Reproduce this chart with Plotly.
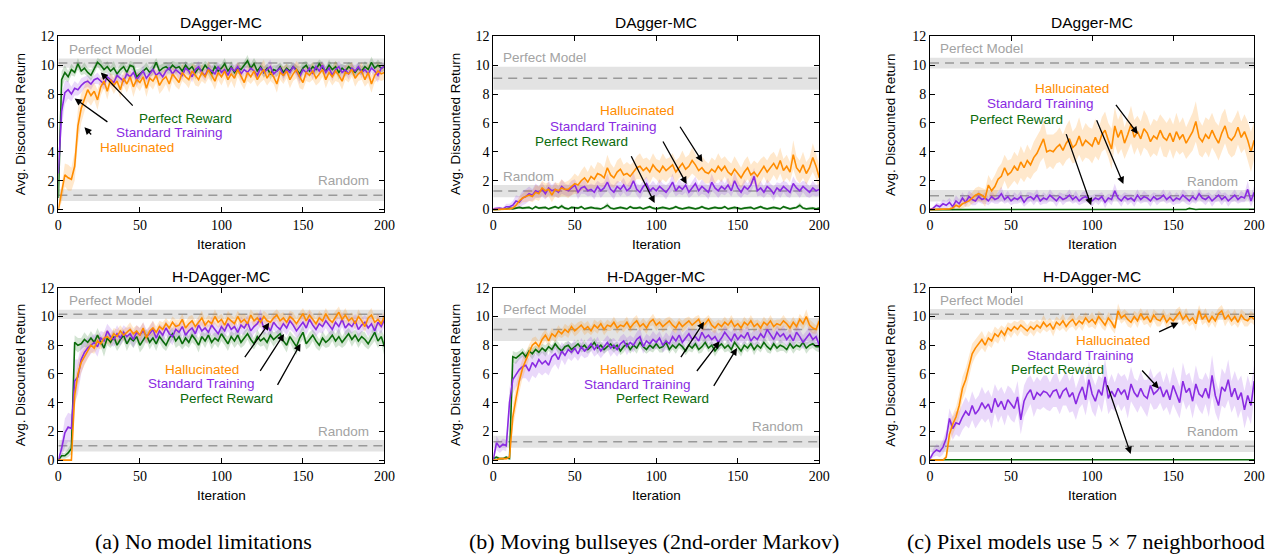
import plotly.graph_objects as go

# ---------------- data ----------------
ITER = list(range(0, 201, 2))
X_TICKS = [0, 50, 100, 150, 200]
Y_TICKS = [0, 2, 4, 6, 8, 10, 12]

SERIES_NAMES = ["Perfect Reward", "Standard Training", "Hallucinated"]
PANEL_TITLES = ["DAgger-MC", "DAgger-MC", "DAgger-MC", "H-DAgger-MC", "H-DAgger-MC", "H-DAgger-MC"]
CAPTIONS = ["(a) No model limitations", "(b) Moving bullseyes (2nd-order Markov)",
            "(c) Pixel models use 5 \u00d7 7 neighborhood"]

PERFECT_MODEL_MEAN = [10.15, 9.1, 10.15]
PERFECT_MODEL_SPREAD = [0.32, 0.8, 0.37]
RANDOM_MEAN = [1.0, 1.28, 0.96]
RANDOM_SPREAD = [0.4, 0.42, 0.4]

# ---- (a) top: DAgger-MC, no model limitations
A1_G = [0.8, 9.0, 9.5, 9.2, 9.7, 9.5, 10.1, 9.6, 9.8, 9.5,
        9.3, 9.7, 10.2, 10.0, 9.7, 9.9, 9.6, 9.8, 9.4, 9.7,
        9.9, 9.5, 10.0, 9.9, 9.2, 9.4, 9.6, 9.8, 9.5, 9.7,
        10.2, 9.6, 9.8, 9.9, 9.7, 10.0, 9.8, 9.9, 9.6, 10.0,
        9.7, 9.9, 9.5, 9.8, 9.6, 10.0, 9.7, 9.4, 9.9, 9.6,
        9.8, 10.1, 9.6, 9.9, 9.5, 9.8, 9.7, 10.0, 10.3, 9.8,
        10.1, 9.6, 9.9, 9.5, 9.8, 9.4, 9.7, 9.6, 9.9, 9.5,
        9.8, 9.6, 9.9, 9.7, 9.4, 9.8, 10.0, 9.6, 9.9, 9.7,
        10.1, 9.8, 9.6, 10.0, 9.7, 9.9, 9.5, 9.8, 9.6, 9.9,
        9.7, 9.5, 9.8, 9.6, 9.9, 9.7, 10.2, 9.8, 10.0, 9.8,
        9.9]
A1_P = [2.5, 6.8, 8.1, 8.3, 8.0, 8.4, 8.3, 8.6, 8.8, 8.9,
        8.7, 9.0, 9.1, 8.9, 8.7, 9.2, 9.0, 8.8, 9.3, 9.1,
        8.9, 9.4, 9.2, 9.5, 9.0, 9.3, 9.6, 9.1, 9.4, 9.7,
        9.3, 9.5, 9.2, 9.6, 9.8, 9.4, 9.7, 9.5, 9.3, 9.8,
        9.6, 9.2, 9.7, 9.9, 9.5, 9.3, 9.8, 9.6, 9.4, 9.9,
        9.5, 9.7, 9.3, 9.8, 9.6, 9.9, 9.4, 9.7, 9.5, 9.8,
        9.6, 9.3, 9.8, 9.5, 9.7, 9.9, 9.4, 9.6, 9.8, 9.3,
        9.7, 9.5, 9.9, 9.6, 9.2, 9.7, 9.5, 9.8, 9.4, 9.9,
        9.6, 10.0, 9.5, 9.8, 9.3, 9.7, 9.9, 9.5, 9.7, 9.4,
        9.8, 9.6, 9.9, 9.5, 9.7, 9.4, 9.8, 9.6, 9.3, 9.8,
        9.9]
A1_O = [0.0, 1.1, 2.4, 2.2, 2.1, 3.0, 5.8, 7.0, 7.7, 8.3,
        7.9, 8.2, 7.6, 8.5, 8.9, 8.2, 9.0, 8.6, 8.9, 8.3,
        9.1, 8.7, 9.2, 8.5, 9.0, 8.8, 9.2, 8.4, 9.1, 8.9,
        9.3, 8.6, 9.0, 9.2, 8.7, 9.4, 9.1, 8.8, 9.5, 9.2,
        9.0, 9.6, 9.3, 9.0, 9.5, 9.2, 9.7, 9.3, 8.9, 9.5,
        9.2, 9.6, 9.0, 9.4, 9.1, 9.7, 9.3, 8.8, 9.5, 9.2,
        9.6, 9.0, 9.4, 9.7, 9.1, 9.5, 9.2, 8.7, 9.5, 9.3,
        9.6, 9.0, 9.4, 9.7, 9.2, 8.8, 9.5, 9.3, 9.6, 9.1,
        9.4, 9.7, 9.0, 9.5, 9.2, 9.6, 9.3, 8.9, 9.5, 9.4,
        9.7, 9.1, 9.4, 9.6, 9.0, 9.5, 8.7, 9.3, 9.6, 9.4,
        9.5]
A1_G_SD = [0.2, 0.6, 0.5, 0.4, 0.4, 0.3, 0.4, 0.3, 0.4, 0.3,
           0.4, 0.3, 0.3, 0.4, 0.3, 0.4, 0.3, 0.5, 0.3, 0.4,
           0.3, 0.4, 0.3, 0.3, 0.5, 0.4, 0.3, 0.4, 0.3, 0.4,
           0.3, 0.4, 0.3, 0.3, 0.4, 0.3, 0.4, 0.3, 0.4, 0.3,
           0.4, 0.3, 0.5, 0.3, 0.4, 0.3, 0.4, 0.5, 0.3, 0.4,
           0.3, 0.4, 0.3, 0.4, 0.3, 0.4, 0.3, 0.3, 0.4, 0.3,
           0.4, 0.5, 0.3, 0.4, 0.3, 0.4, 0.3, 0.4, 0.3, 0.4,
           0.3, 0.4, 0.3, 0.3, 0.5, 0.4, 0.3, 0.4, 0.3, 0.4,
           0.3, 0.4, 0.3, 0.4, 0.3, 0.4, 0.5, 0.3, 0.4, 0.3,
           0.4, 0.3, 0.4, 0.3, 0.4, 0.3, 0.4, 0.3, 0.4, 0.3,
           0.3]
A1_P_SD = [1.0, 1.2, 0.8, 0.6, 0.5, 0.5, 0.4, 0.5, 0.4, 0.4,
           0.4, 0.3, 0.4, 0.3, 0.4, 0.3, 0.4, 0.3, 0.4, 0.3,
           0.4, 0.3, 0.4, 0.3, 0.5, 0.3, 0.4, 0.3, 0.4, 0.3,
           0.3, 0.4, 0.3, 0.4, 0.3, 0.4, 0.3, 0.5, 0.3, 0.4,
           0.3, 0.4, 0.3, 0.4, 0.3, 0.4, 0.3, 0.4, 0.5, 0.3,
           0.4, 0.3, 0.4, 0.3, 0.4, 0.3, 0.5, 0.3, 0.4, 0.3,
           0.4, 0.3, 0.4, 0.3, 0.4, 0.5, 0.3, 0.4, 0.3, 0.4,
           0.3, 0.4, 0.3, 0.4, 0.5, 0.3, 0.4, 0.3, 0.4, 0.3,
           0.4, 0.3, 0.4, 0.3, 0.4, 0.3, 0.4, 0.5, 0.3, 0.4,
           0.3, 0.4, 0.3, 0.4, 0.3, 0.4, 0.3, 0.4, 0.5, 0.3,
           0.3]
A1_O_SD = [0.2, 0.6, 0.8, 0.9, 0.8, 1.0, 1.2, 1.0, 0.9, 0.8,
           0.7, 0.6, 0.7, 0.6, 0.5, 0.6, 0.5, 0.6, 0.5, 0.6,
           0.5, 0.6, 0.5, 0.7, 0.5, 0.6, 0.5, 0.6, 0.5, 0.6,
           0.5, 0.6, 0.7, 0.5, 0.6, 0.5, 0.6, 0.5, 0.6, 0.5,
           0.6, 0.5, 0.7, 0.5, 0.6, 0.5, 0.6, 0.5, 0.6, 0.5,
           0.6, 0.5, 0.6, 0.5, 0.7, 0.5, 0.6, 0.5, 0.6, 0.5,
           0.6, 0.5, 0.6, 0.7, 0.5, 0.6, 0.5, 0.6, 0.5, 0.6,
           0.5, 0.6, 0.5, 0.6, 0.8, 0.5, 0.6, 0.5, 0.6, 0.5,
           0.6, 0.5, 0.6, 0.5, 0.6, 0.7, 0.5, 0.6, 0.5, 0.6,
           0.5, 0.6, 0.5, 0.6, 0.5, 0.7, 0.6, 0.5, 0.6, 0.5,
           0.5]

# ---- (b) top: DAgger-MC, moving bullseyes
B1_G = [0.0, 0.0, 0.0, 0.0, 0.05, 0.1, 0.05, 0.1, 0.15, 0.1,
        0.1, 0.15, 0.05, 0.2, 0.1, 0.1, 0.15, 0.05, 0.1, 0.2,
        0.1, 0.25, 0.1, 0.05, 0.15, 0.1, 0.1, 0.2, 0.05, 0.1,
        0.15, 0.1, 0.1, 0.05, 0.15, 0.3, 0.1, 0.05, 0.1, 0.15,
        0.1, 0.05, 0.2, 0.1, 0.1, 0.15, 0.05, 0.1, 0.2, 0.1,
        0.05, 0.1, 0.15, 0.1, 0.05, 0.1, 0.2, 0.1, 0.05, 0.1,
        0.15, 0.1, 0.05, 0.1, 0.2, 0.1, 0.05, 0.1, 0.15, 0.1,
        0.1, 0.2, 0.05, 0.1, 0.15, 0.1, 0.05, 0.1, 0.1, 0.15,
        0.05, 0.1, 0.2, 0.1, 0.05, 0.1, 0.15, 0.1, 0.05, 0.2,
        0.1, 0.05, 0.1, 0.15, 0.3, 0.1, 0.05, 0.1, 0.1, 0.05,
        0.1]
B1_P = [0.05, 0.1, 0.1, 0.05, 0.2, 0.2, 0.3, 0.6, 0.5, 0.8,
        0.9, 1.1, 1.0, 1.3, 1.2, 1.4, 1.1, 1.5, 1.3, 1.4,
        1.2, 1.6, 1.4, 1.3, 1.5, 1.7, 1.2, 1.5, 1.6, 1.3,
        1.4, 1.2, 1.6, 1.3, 1.5, 1.9, 1.4, 1.2, 1.6, 1.4,
        1.7, 1.3, 1.5, 2.0, 1.4, 1.2, 1.6, 1.8, 1.3, 1.5,
        1.3, 1.6, 1.4, 1.2, 1.5, 1.9, 1.3, 1.6, 1.4, 1.7,
        1.2, 1.5, 1.8, 1.3, 1.6, 1.4, 1.2, 1.9, 1.5, 1.3,
        1.6, 1.4, 1.7, 1.3, 2.0, 1.5, 1.2, 1.6, 1.4, 1.7,
        2.3, 1.3, 1.5, 1.2, 1.6, 1.4, 1.1, 1.5, 1.3, 1.6,
        1.4, 1.2, 1.8, 1.5, 1.3, 1.6, 1.4, 1.2, 1.5, 1.3,
        1.4]
B1_O = [0.0, 0.0, 0.0, 0.0, 0.05, 0.05, 0.1, 0.3, 0.6, 0.8,
        0.9, 1.0, 0.9, 1.2, 1.1, 1.5, 1.3, 1.4, 1.0, 1.4,
        1.3, 1.5, 1.4, 1.4, 1.6, 1.8, 1.7, 2.0, 2.2, 1.9,
        2.3, 2.1, 2.5, 2.4, 2.2, 2.9, 2.4, 2.2, 2.6, 2.8,
        2.4, 2.5, 2.3, 2.6, 2.9, 3.0, 2.7, 2.9, 2.6, 3.1,
        2.8, 2.6, 3.0, 2.7, 2.9, 3.1, 2.6, 2.9, 3.2, 2.8,
        3.0, 3.4, 3.1, 2.7, 2.9, 2.6, 2.5, 2.8, 2.6, 3.0,
        2.7, 3.0, 2.6, 2.4, 2.8, 2.5, 2.2, 2.6, 2.9, 2.4,
        2.6, 2.3, 2.7, 3.0, 2.6, 2.9, 3.2, 2.8, 3.4, 2.7,
        3.0, 2.6, 3.8, 2.9, 2.6, 3.1, 2.5, 2.9, 3.6, 3.0,
        2.2]
B1_G_SD = [0.0, 0.0, 0.0, 0.0, 0.05, 0.05, 0.05, 0.1, 0.1, 0.1,
           0.1, 0.1, 0.05, 0.1, 0.1, 0.1, 0.1, 0.05, 0.1, 0.1,
           0.1, 0.15, 0.1, 0.05, 0.1, 0.1, 0.1, 0.1, 0.05, 0.1,
           0.1, 0.1, 0.1, 0.05, 0.1, 0.2, 0.1, 0.05, 0.1, 0.1,
           0.1, 0.05, 0.1, 0.1, 0.1, 0.1, 0.05, 0.1, 0.1, 0.1,
           0.05, 0.1, 0.1, 0.1, 0.05, 0.1, 0.1, 0.1, 0.05, 0.1,
           0.1, 0.1, 0.05, 0.1, 0.1, 0.1, 0.05, 0.1, 0.1, 0.1,
           0.1, 0.1, 0.05, 0.1, 0.1, 0.1, 0.05, 0.1, 0.1, 0.1,
           0.05, 0.1, 0.1, 0.1, 0.05, 0.1, 0.1, 0.1, 0.05, 0.1,
           0.1, 0.05, 0.1, 0.1, 0.2, 0.1, 0.05, 0.1, 0.1, 0.05,
           0.1]
B1_P_SD = [0.05, 0.1, 0.1, 0.1, 0.2, 0.2, 0.3, 0.4, 0.4, 0.5,
           0.5, 0.5, 0.4, 0.5, 0.4, 0.5, 0.4, 0.5, 0.4, 0.5,
           0.4, 0.5, 0.4, 0.4, 0.5, 0.4, 0.5, 0.4, 0.5, 0.4,
           0.4, 0.5, 0.4, 0.5, 0.4, 0.6, 0.4, 0.5, 0.4, 0.5,
           0.5, 0.4, 0.5, 0.6, 0.4, 0.5, 0.4, 0.5, 0.4, 0.5,
           0.4, 0.5, 0.4, 0.5, 0.4, 0.6, 0.4, 0.5, 0.4, 0.5,
           0.4, 0.5, 0.5, 0.4, 0.5, 0.4, 0.5, 0.6, 0.4, 0.5,
           0.5, 0.4, 0.5, 0.4, 0.6, 0.5, 0.4, 0.5, 0.4, 0.5,
           0.6, 0.4, 0.5, 0.4, 0.5, 0.4, 0.5, 0.4, 0.5, 0.4,
           0.5, 0.4, 0.5, 0.4, 0.5, 0.4, 0.5, 0.4, 0.5, 0.4,
           0.4]
B1_O_SD = [0.0, 0.0, 0.0, 0.05, 0.05, 0.1, 0.1, 0.2, 0.3, 0.3,
           0.4, 0.4, 0.4, 0.5, 0.5, 0.5, 0.5, 0.5, 0.5, 0.5,
           0.5, 0.6, 0.5, 0.6, 0.6, 0.7, 0.6, 0.7, 0.8, 0.7,
           0.8, 0.7, 0.8, 0.8, 0.7, 0.9, 0.8, 0.7, 0.8, 0.8,
           0.7, 0.8, 0.8, 0.7, 0.8, 0.9, 0.8, 0.7, 0.8, 0.8,
           0.7, 0.8, 0.9, 0.8, 0.7, 0.8, 0.8, 0.7, 0.9, 0.8,
           0.8, 0.9, 0.8, 0.7, 0.8, 0.8, 0.7, 0.8, 0.8, 0.9,
           0.8, 0.7, 0.8, 0.8, 0.9, 0.8, 0.7, 0.8, 0.8, 0.7,
           0.8, 0.9, 0.8, 0.7, 0.8, 0.9, 0.8, 0.8, 0.9, 0.8,
           0.8, 0.7, 1.0, 0.8, 0.8, 0.9, 0.8, 0.7, 1.0, 0.9,
           0.8]

# ---- (c) top: DAgger-MC, pixel models 5x7
C1_G = [0.0, 0.0, 0.0, 0.0, 0.01, 0.02, 0.02, 0.01, 0.02, 0.02,
        0.02, 0.01, 0.02, 0.02, 0.02, 0.01, 0.02, 0.02, 0.02, 0.01,
        0.02, 0.02, 0.01, 0.02, 0.02, 0.02, 0.01, 0.02, 0.02, 0.02,
        0.01, 0.02, 0.02, 0.02, 0.01, 0.02, 0.02, 0.02, 0.01, 0.02,
        0.02, 0.01, 0.02, 0.02, 0.02, 0.01, 0.02, 0.02, 0.02, 0.01,
        0.02, 0.02, 0.01, 0.02, 0.02, 0.02, 0.01, 0.02, 0.02, 0.02,
        0.01, 0.02, 0.02, 0.02, 0.01, 0.02, 0.02, 0.02, 0.01, 0.02,
        0.02, 0.01, 0.02, 0.02, 0.02, 0.01, 0.02, 0.02, 0.02, 0.01,
        0.08, 0.02, 0.01, 0.02, 0.02, 0.02, 0.01, 0.02, 0.02, 0.02,
        0.01, 0.02, 0.02, 0.02, 0.01, 0.02, 0.02, 0.02, 0.01, 0.02,
        0.02]
C1_P = [0.0, 0.1, 0.3, 0.2, 0.4, 0.3, 0.5, 0.2, 0.6, 0.4,
        0.8, 0.5, 0.9, 0.7, 0.6, 0.9, 0.7, 0.8, 0.6, 0.9,
        0.7, 0.8, 1.1, 0.7, 0.9, 0.6, 0.8, 0.7, 0.9, 0.5,
        0.8, 0.9, 0.7, 1.0, 0.6, 0.8, 0.7, 1.0, 0.8, 0.6,
        0.9, 0.7, 0.8, 1.0, 0.7, 0.9, 0.6, 0.8, 0.9, 0.7,
        0.6, 0.8, 0.7, 0.9, 0.5, 0.8, 0.7, 1.3, 0.8, 0.6,
        0.9, 0.7, 0.8, 0.6, 1.0, 0.7, 0.9, 0.8, 0.6, 0.9,
        0.7, 0.8, 1.0, 0.7, 0.9, 0.6, 0.8, 0.7, 1.0, 0.8,
        0.6, 0.9, 0.7, 1.1, 0.8, 0.7, 0.9, 0.6, 0.8, 1.0,
        0.7, 0.9, 0.6, 0.8, 1.0, 0.7, 0.9, 0.8, 1.4, 0.6,
        1.2]
C1_O = [0.0, 0.0, 0.0, 0.0, 0.0, 0.0, 0.05, 0.1, 0.3, 0.2,
        0.4, 0.5, 0.6, 0.8, 1.0, 1.1, 1.0, 0.8, 1.7, 1.3,
        1.6, 2.1, 2.3, 2.9, 2.4, 2.6, 3.0, 2.7, 3.3, 2.9,
        3.4, 3.1, 3.6, 3.9, 4.4, 4.9, 4.0, 4.1, 4.0, 4.3,
        4.5, 4.1, 4.6, 4.9, 4.3, 4.5, 5.1, 4.4, 4.8, 4.6,
        4.4, 5.0, 4.5, 5.2, 5.5, 4.8, 4.2, 5.8, 5.0, 5.5,
        4.6, 5.2, 5.9, 5.0, 5.4, 4.9, 5.6, 5.3, 4.7, 5.1,
        4.9, 5.5, 5.0, 4.8, 5.3, 4.7, 5.4, 4.9, 5.2, 4.6,
        5.0, 5.4, 6.1, 5.0, 4.7, 5.2, 4.9, 5.5, 5.0, 4.6,
        5.3, 5.8, 5.0, 4.8, 5.1, 5.7, 5.0, 5.4, 4.8, 4.0,
        4.8]
C1_G_SD = [0.0, 0.0, 0.0, 0.0, 0.01, 0.01, 0.02, 0.01, 0.02, 0.01,
           0.02, 0.01, 0.02, 0.01, 0.02, 0.01, 0.02, 0.01, 0.02, 0.01,
           0.02, 0.01, 0.02, 0.01, 0.02, 0.01, 0.02, 0.01, 0.02, 0.01,
           0.02, 0.01, 0.02, 0.01, 0.02, 0.01, 0.02, 0.01, 0.02, 0.01,
           0.02, 0.01, 0.02, 0.01, 0.02, 0.01, 0.02, 0.01, 0.02, 0.01,
           0.02, 0.01, 0.02, 0.01, 0.02, 0.01, 0.02, 0.01, 0.02, 0.01,
           0.02, 0.01, 0.02, 0.01, 0.02, 0.01, 0.02, 0.01, 0.02, 0.01,
           0.02, 0.01, 0.02, 0.01, 0.02, 0.01, 0.02, 0.01, 0.02, 0.01,
           0.06, 0.01, 0.02, 0.01, 0.02, 0.01, 0.02, 0.01, 0.02, 0.01,
           0.02, 0.01, 0.02, 0.01, 0.02, 0.01, 0.02, 0.01, 0.02, 0.01,
           0.02]
C1_P_SD = [0.05, 0.1, 0.2, 0.2, 0.3, 0.3, 0.3, 0.3, 0.4, 0.3,
           0.4, 0.3, 0.4, 0.4, 0.3, 0.4, 0.3, 0.4, 0.3, 0.4,
           0.3, 0.4, 0.5, 0.3, 0.4, 0.3, 0.4, 0.3, 0.4, 0.3,
           0.4, 0.3, 0.4, 0.4, 0.3, 0.4, 0.3, 0.4, 0.3, 0.4,
           0.3, 0.4, 0.3, 0.4, 0.3, 0.4, 0.3, 0.4, 0.4, 0.3,
           0.4, 0.3, 0.4, 0.3, 0.4, 0.3, 0.4, 0.5, 0.3, 0.4,
           0.3, 0.4, 0.3, 0.4, 0.4, 0.3, 0.4, 0.3, 0.4, 0.3,
           0.4, 0.3, 0.4, 0.3, 0.4, 0.3, 0.4, 0.3, 0.4, 0.4,
           0.3, 0.4, 0.3, 0.4, 0.3, 0.4, 0.3, 0.4, 0.3, 0.4,
           0.4, 0.3, 0.4, 0.3, 0.4, 0.3, 0.4, 0.3, 0.6, 0.4,
           0.5]
C1_O_SD = [0.0, 0.0, 0.0, 0.0, 0.0, 0.05, 0.1, 0.1, 0.2, 0.2,
           0.3, 0.3, 0.4, 0.4, 0.5, 0.5, 0.5, 0.6, 0.7, 0.7,
           0.8, 0.8, 0.9, 0.9, 1.0, 0.9, 1.0, 1.0, 1.1, 1.0,
           1.1, 1.0, 1.1, 1.2, 1.1, 1.3, 1.2, 1.1, 1.2, 1.1,
           1.2, 1.1, 1.2, 1.3, 1.1, 1.2, 1.3, 1.1, 1.2, 1.1,
           1.2, 1.3, 1.1, 1.2, 1.3, 1.2, 1.4, 1.3, 1.2, 1.3,
           1.1, 1.2, 1.3, 1.2, 1.1, 1.2, 1.3, 1.2, 1.1, 1.2,
           1.2, 1.1, 1.3, 1.2, 1.1, 1.2, 1.3, 1.1, 1.2, 1.1,
           1.2, 1.3, 1.4, 1.2, 1.1, 1.2, 1.3, 1.2, 1.1, 1.2,
           1.3, 1.2, 1.1, 1.2, 1.3, 1.2, 1.1, 1.2, 1.3, 1.4,
           1.3]

# ---- (a) bottom: H-DAgger-MC, no model limitations
A2_G = [0.0, 0.3, 0.3, 0.5, 0.8, 8.2, 8.0, 8.1, 8.4, 8.2,
        8.5, 8.2, 8.7, 8.3, 7.8, 8.5, 8.2, 8.6, 8.0, 8.4,
        8.7, 8.1, 8.5, 8.3, 8.6, 8.0, 8.4, 8.7, 8.2, 8.5,
        8.1, 8.6, 8.3, 8.0, 8.5, 8.8, 8.3, 8.6, 8.1, 8.5,
        8.2, 8.7, 8.4, 8.0, 8.6, 8.3, 8.7, 8.2, 8.5, 8.3,
        8.8, 8.4, 8.1, 8.6, 8.3, 8.7, 8.2, 8.5, 8.8, 8.4,
        8.1, 8.6, 8.3, 8.5, 8.2, 8.7, 8.4, 8.6, 8.8, 8.3,
        8.0, 8.6, 8.2, 7.9, 8.5, 8.9, 8.1, 8.4, 8.7, 8.3,
        8.0, 8.5, 8.2, 8.4, 8.7, 8.3, 8.6, 8.2, 8.5, 8.8,
        8.4, 8.7, 8.3, 8.6, 8.4, 8.1, 8.5, 8.9, 8.3, 8.6,
        7.9]
A2_P = [0.0, 0.8, 1.9, 2.3, 2.2, 5.5, 5.8, 7.0, 7.5, 7.8,
        8.0, 8.2, 7.9, 8.5, 8.3, 9.0, 8.6, 8.4, 8.8, 8.5,
        8.9, 8.6, 8.8, 8.4, 8.9, 8.7, 9.0, 8.6, 8.8, 9.1,
        8.5, 9.0, 8.7, 9.2, 8.8, 8.6, 9.1, 8.9, 9.3, 8.7,
        9.0, 9.2, 8.8, 9.4, 9.0, 9.2, 8.9, 9.4, 9.1, 8.8,
        9.3, 9.0, 9.5, 9.1, 9.3, 8.9, 9.4, 9.2, 9.6, 9.0,
        9.3, 9.5, 9.9, 9.2, 9.4, 9.0, 9.6, 9.3, 9.1, 9.5,
        9.2, 9.7, 9.4, 9.0, 9.3, 9.6, 9.2, 9.8, 9.4, 9.1,
        9.5, 9.3, 9.7, 9.4, 9.1, 9.6, 9.3, 9.8, 9.2, 9.5,
        9.3, 9.7, 9.1, 9.4, 9.6, 9.2, 9.5, 9.0, 9.6, 9.3,
        9.8]
A2_O = [0.0, 0.0, 0.0, 0.0, 0.0, 4.5, 6.0, 6.8, 7.2, 7.6,
        8.0, 7.8, 8.3, 8.1, 8.5, 8.6, 8.4, 8.8, 8.6, 9.0,
        8.7, 8.9, 9.1, 8.8, 9.0, 8.7, 9.2, 8.5, 9.0, 9.2,
        8.9, 9.3, 9.1, 9.5, 9.2, 9.6, 9.3, 9.4, 9.8, 9.2,
        9.5, 9.7, 9.3, 9.6, 9.9, 9.4, 9.7, 9.5, 10.0, 9.6,
        9.8, 9.4, 9.9, 9.7, 9.5, 10.0, 9.6, 9.8, 9.5, 10.1,
        9.7, 9.9, 9.6, 10.0, 9.7, 9.6, 9.9, 10.1, 9.7, 9.9,
        9.6, 10.0, 9.8, 9.5, 9.9, 10.2, 9.7, 10.1, 9.8, 9.5,
        9.9, 9.7, 10.2, 9.8, 9.6, 10.0, 10.3, 9.8, 10.1, 9.7,
        9.9, 9.5, 10.0, 9.7, 9.3, 9.9, 10.1, 9.6, 9.8, 9.5,
        10.0]
A2_G_SD = [0.0, 0.2, 0.2, 0.3, 0.4, 0.5, 0.5, 0.4, 0.5, 0.4,
           0.5, 0.4, 0.5, 0.4, 0.6, 0.5, 0.4, 0.5, 0.4, 0.5,
           0.4, 0.5, 0.4, 0.5, 0.4, 0.5, 0.6, 0.4, 0.5, 0.4,
           0.5, 0.4, 0.5, 0.4, 0.5, 0.4, 0.5, 0.6, 0.4, 0.5,
           0.4, 0.5, 0.4, 0.5, 0.4, 0.5, 0.4, 0.5, 0.4, 0.5,
           0.5, 0.4, 0.5, 0.4, 0.5, 0.6, 0.4, 0.5, 0.4, 0.5,
           0.4, 0.5, 0.4, 0.5, 0.6, 0.4, 0.5, 0.4, 0.5, 0.4,
           0.5, 0.4, 0.5, 0.6, 0.4, 0.5, 0.4, 0.5, 0.4, 0.5,
           0.4, 0.5, 0.4, 0.5, 0.4, 0.5, 0.6, 0.4, 0.5, 0.4,
           0.5, 0.4, 0.5, 0.4, 0.5, 0.4, 0.5, 0.6, 0.5, 0.5,
           0.7]
A2_P_SD = [0.0, 0.6, 1.0, 1.0, 1.0, 1.5, 1.2, 1.0, 0.8, 0.7,
           0.6, 0.6, 0.7, 0.5, 0.6, 0.5, 0.6, 0.5, 0.6, 0.5,
           0.5, 0.6, 0.5, 0.6, 0.5, 0.5, 0.6, 0.5, 0.5, 0.6,
           0.5, 0.5, 0.6, 0.5, 0.5, 0.6, 0.5, 0.5, 0.6, 0.5,
           0.5, 0.6, 0.5, 0.5, 0.6, 0.5, 0.5, 0.6, 0.5, 0.5,
           0.6, 0.5, 0.5, 0.6, 0.5, 0.5, 0.6, 0.5, 0.5, 0.6,
           0.5, 0.5, 0.6, 0.5, 0.5, 0.6, 0.5, 0.5, 0.6, 0.5,
           0.5, 0.6, 0.5, 0.5, 0.6, 0.5, 0.5, 0.6, 0.5, 0.5,
           0.6, 0.5, 0.5, 0.6, 0.5, 0.5, 0.6, 0.5, 0.5, 0.6,
           0.5, 0.5, 0.6, 0.5, 0.5, 0.6, 0.5, 0.5, 0.6, 0.5,
           0.5]
A2_O_SD = [0.0, 0.0, 0.0, 0.0, 0.0, 1.0, 0.8, 0.7, 0.6, 0.5,
           0.5, 0.4, 0.5, 0.4, 0.4, 0.5, 0.4, 0.4, 0.5, 0.4,
           0.4, 0.4, 0.5, 0.4, 0.4, 0.5, 0.4, 0.4, 0.4, 0.5,
           0.4, 0.4, 0.5, 0.4, 0.4, 0.4, 0.5, 0.4, 0.4, 0.4,
           0.5, 0.4, 0.4, 0.4, 0.5, 0.4, 0.4, 0.4, 0.5, 0.4,
           0.4, 0.4, 0.5, 0.4, 0.4, 0.4, 0.5, 0.4, 0.4, 0.4,
           0.5, 0.4, 0.4, 0.4, 0.5, 0.4, 0.4, 0.4, 0.5, 0.4,
           0.4, 0.4, 0.5, 0.4, 0.4, 0.4, 0.5, 0.4, 0.4, 0.4,
           0.5, 0.4, 0.4, 0.4, 0.5, 0.4, 0.4, 0.4, 0.5, 0.4,
           0.4, 0.4, 0.5, 0.4, 0.4, 0.4, 0.5, 0.4, 0.4, 0.4,
           0.4]

# ---- (b) bottom: H-DAgger-MC, moving bullseyes
B2_G = [0.1, 0.2, 0.1, 0.1, 0.2, 0.1, 7.2, 7.1, 7.3, 7.5,
        7.2, 7.6, 7.4, 7.7, 7.5, 7.8, 7.6, 7.9, 7.7, 8.1,
        7.8, 7.6, 7.9, 8.0, 7.7, 7.9, 8.1, 7.8, 8.0, 7.7,
        7.9, 8.2, 7.8, 8.0, 7.7, 7.9, 8.1, 7.8, 8.0, 7.6,
        7.9, 8.1, 7.7, 8.0, 7.8, 8.2, 7.9, 7.7, 8.0, 7.8,
        8.1, 7.8, 7.9, 8.2, 7.7, 8.0, 7.8, 8.1, 7.9, 7.6,
        8.0, 7.8, 8.1, 7.7, 7.9, 8.2, 7.8, 8.0, 7.6, 7.9,
        8.1, 7.8, 8.0, 7.7, 8.2, 7.9, 7.6, 8.0, 7.8, 8.1,
        7.7, 8.0, 7.8, 8.2, 7.9, 7.7, 8.1, 7.8, 8.0, 7.9,
        7.7, 8.1, 7.8, 8.0, 7.9, 8.2, 7.8, 8.0, 8.1, 7.9,
        7.9]
B2_P = [0.0, 1.2, 0.9, 1.1, 1.0, 4.0, 5.6, 6.0, 6.3, 6.5,
        6.6, 6.2, 6.8, 6.5, 7.0, 6.7, 6.9, 6.6, 7.2, 7.4,
        7.0, 7.6, 7.3, 7.7, 7.5, 7.8, 7.4, 7.9, 7.6, 7.8,
        8.1, 7.7, 8.0, 7.6, 7.9, 8.2, 7.8, 8.0, 7.7, 8.1,
        8.3, 7.9, 8.2, 8.0, 8.4, 8.6, 7.9, 8.3, 8.1, 8.4,
        8.2, 8.5, 8.0, 8.3, 8.1, 8.6, 8.3, 8.7, 8.2, 8.5,
        8.8, 8.4, 8.6, 8.3, 8.9, 8.5, 8.7, 8.4, 8.6, 8.2,
        8.5, 8.9, 8.6, 8.3, 8.8, 8.4, 8.7, 8.5, 8.9, 8.3,
        8.6, 8.4, 8.8, 8.5, 9.1, 8.7, 8.4, 8.9, 8.6, 8.8,
        8.4, 8.7, 8.3, 8.9, 8.6, 8.2, 8.5, 8.8, 8.4, 8.6,
        8.0]
B2_O = [0.0, 0.0, 0.1, 0.1, 0.1, 0.2, 3.0, 4.3, 5.5, 6.4,
        7.0, 7.5, 8.0, 8.2, 7.9, 8.4, 8.7, 8.3, 8.8, 8.6,
        9.0, 8.8, 9.1, 8.9, 9.3, 9.0, 9.2, 9.4, 9.1, 9.3,
        9.0, 9.4, 9.2, 9.5, 9.1, 9.4, 9.3, 9.6, 9.2, 9.4,
        9.3, 9.6, 9.2, 9.5, 9.7, 9.3, 9.5, 9.2, 9.6, 9.8,
        9.4, 9.6, 9.3, 9.5, 9.7, 9.4, 9.2, 9.6, 9.3, 9.5,
        9.7, 9.4, 9.6, 9.8, 9.3, 9.5, 9.8, 9.4, 9.2, 9.5,
        9.3, 9.6, 9.4, 9.7, 9.3, 9.5, 9.2, 9.6, 9.4, 9.7,
        9.3, 9.5, 9.2, 9.6, 9.4, 9.7, 9.3, 9.5, 9.4, 9.7,
        9.5, 9.2, 9.6, 9.3, 9.8, 9.5, 10.0, 9.4, 9.2, 9.1,
        9.7]
B2_G_SD = [0.1, 0.1, 0.1, 0.1, 0.1, 0.1, 0.4, 0.4, 0.3, 0.3,
           0.3, 0.3, 0.4, 0.3, 0.3, 0.3, 0.4, 0.3, 0.3, 0.3,
           0.4, 0.3, 0.3, 0.3, 0.4, 0.3, 0.3, 0.3, 0.4, 0.3,
           0.3, 0.3, 0.4, 0.3, 0.3, 0.3, 0.4, 0.3, 0.3, 0.3,
           0.4, 0.3, 0.3, 0.3, 0.4, 0.3, 0.3, 0.3, 0.4, 0.3,
           0.3, 0.3, 0.4, 0.3, 0.3, 0.3, 0.4, 0.3, 0.3, 0.3,
           0.4, 0.3, 0.3, 0.3, 0.4, 0.3, 0.3, 0.3, 0.4, 0.3,
           0.3, 0.3, 0.4, 0.3, 0.3, 0.3, 0.4, 0.3, 0.3, 0.3,
           0.4, 0.3, 0.3, 0.3, 0.4, 0.3, 0.3, 0.3, 0.4, 0.3,
           0.3, 0.3, 0.4, 0.3, 0.3, 0.3, 0.4, 0.3, 0.3, 0.3,
           0.4]
B2_P_SD = [0.0, 0.5, 0.4, 0.4, 0.4, 1.0, 1.0, 0.9, 0.9, 0.8,
           0.9, 0.8, 0.9, 0.8, 0.9, 0.8, 0.8, 0.7, 0.8, 0.7,
           0.7, 0.6, 0.7, 0.6, 0.6, 0.6, 0.5, 0.6, 0.5, 0.6,
           0.5, 0.5, 0.6, 0.5, 0.5, 0.5, 0.6, 0.5, 0.5, 0.5,
           0.5, 0.6, 0.5, 0.5, 0.5, 0.6, 0.5, 0.5, 0.5, 0.6,
           0.5, 0.5, 0.5, 0.6, 0.5, 0.5, 0.5, 0.6, 0.5, 0.5,
           0.5, 0.6, 0.5, 0.5, 0.5, 0.6, 0.5, 0.5, 0.5, 0.6,
           0.5, 0.5, 0.5, 0.6, 0.5, 0.5, 0.5, 0.6, 0.5, 0.5,
           0.5, 0.6, 0.5, 0.5, 0.5, 0.6, 0.5, 0.5, 0.5, 0.6,
           0.5, 0.5, 0.5, 0.6, 0.5, 0.5, 0.5, 0.6, 0.5, 0.5,
           0.5]
B2_O_SD = [0.0, 0.0, 0.05, 0.05, 0.1, 0.1, 0.8, 0.9, 0.8, 0.7,
           0.6, 0.5, 0.5, 0.4, 0.4, 0.4, 0.4, 0.4, 0.4, 0.4,
           0.4, 0.3, 0.4, 0.4, 0.3, 0.4, 0.4, 0.3, 0.4, 0.4,
           0.3, 0.4, 0.4, 0.3, 0.4, 0.4, 0.3, 0.4, 0.4, 0.3,
           0.4, 0.4, 0.3, 0.4, 0.4, 0.3, 0.4, 0.4, 0.3, 0.4,
           0.4, 0.3, 0.4, 0.4, 0.3, 0.4, 0.4, 0.3, 0.4, 0.4,
           0.3, 0.4, 0.4, 0.3, 0.4, 0.4, 0.3, 0.4, 0.4, 0.3,
           0.4, 0.4, 0.3, 0.4, 0.4, 0.3, 0.4, 0.4, 0.3, 0.4,
           0.4, 0.3, 0.4, 0.4, 0.3, 0.4, 0.4, 0.3, 0.4, 0.4,
           0.3, 0.4, 0.4, 0.3, 0.4, 0.4, 0.5, 0.4, 0.4, 0.3,
           0.4]

# ---- (c) bottom: H-DAgger-MC, pixel models 5x7
C2_G = [0.02, 0.02, 0.02, 0.02, 0.02, 0.02, 0.02, 0.02, 0.02, 0.02,
        0.02, 0.02, 0.02, 0.02, 0.02, 0.02, 0.02, 0.02, 0.02, 0.02,
        0.02, 0.02, 0.02, 0.02, 0.02, 0.02, 0.02, 0.02, 0.02, 0.02,
        0.02, 0.02, 0.02, 0.02, 0.02, 0.02, 0.02, 0.02, 0.02, 0.02,
        0.02, 0.02, 0.02, 0.02, 0.02, 0.02, 0.02, 0.02, 0.02, 0.02,
        0.02, 0.02, 0.02, 0.02, 0.02, 0.02, 0.02, 0.02, 0.02, 0.02,
        0.02, 0.02, 0.02, 0.02, 0.02, 0.02, 0.02, 0.02, 0.02, 0.02,
        0.02, 0.02, 0.02, 0.02, 0.02, 0.02, 0.02, 0.02, 0.02, 0.02,
        0.02, 0.02, 0.02, 0.02, 0.02, 0.02, 0.02, 0.02, 0.02, 0.02,
        0.02, 0.02, 0.02, 0.02, 0.02, 0.02, 0.02, 0.02, 0.02, 0.02,
        0.02]
C2_P = [0.1, 0.5, 0.7, 0.6, 0.9, 1.5, 2.9, 2.2, 2.6, 2.5,
        3.0, 3.4, 3.1, 3.8, 3.2, 3.5, 4.0, 3.6, 3.9, 3.3,
        4.3, 3.7, 4.1, 3.5, 4.2, 3.9, 3.6, 4.4, 2.8, 4.1,
        4.6, 4.9, 4.2, 4.7, 4.5, 4.8, 4.7, 4.4, 4.8, 4.9,
        4.3, 4.8, 5.0, 4.4, 4.7, 3.9, 4.6, 5.1, 4.2, 5.6,
        4.6, 4.1, 4.9, 4.5, 5.8, 4.3, 4.8, 4.4, 5.0, 4.6,
        4.9, 4.2, 5.3, 4.7, 4.4, 5.0, 4.5, 4.3, 5.2, 4.6,
        4.8, 5.1, 4.4, 4.9, 4.2, 5.2, 4.6, 4.0, 5.5, 4.7,
        5.0, 4.1, 5.3, 4.6, 4.4, 5.0, 4.3, 5.9, 4.5, 3.8,
        5.1, 4.8, 5.6, 4.4, 5.0, 4.2, 4.7, 3.5, 4.5, 3.8,
        5.5]
C2_O = [0.0, 0.0, 0.0, 0.0, 0.0, 0.2, 1.8, 2.5, 3.0, 3.8,
        5.0, 5.6, 6.5, 7.4, 7.8, 8.1, 8.4, 8.0, 8.5, 8.3,
        8.8, 8.6, 9.0, 8.7, 9.2, 9.0, 9.3, 9.1, 9.4, 9.2,
        9.0, 9.3, 9.1, 9.4, 9.2, 9.6, 9.3, 9.5, 9.1, 9.6,
        9.4, 9.7, 9.3, 9.6, 9.8, 9.4, 9.7, 9.5, 9.9, 9.6,
        9.8, 9.5, 10.0, 9.7, 9.4, 9.9, 9.6, 9.2, 10.4, 9.9,
        10.1, 9.8, 9.6, 10.0, 9.7, 10.2, 9.8, 10.0, 9.6, 10.1,
        9.8, 9.7, 10.1, 9.6, 9.9, 9.7, 10.0, 10.3, 9.8, 10.1,
        9.7, 9.9, 9.5, 10.4, 9.8, 10.1, 9.6, 10.0, 9.7, 10.2,
        10.4, 9.8, 10.1, 9.7, 10.0, 9.6, 10.1, 9.8, 9.7, 10.0,
        9.8]
C2_G_SD = [0.01, 0.01, 0.01, 0.01, 0.01, 0.01, 0.01, 0.01, 0.01, 0.01,
           0.01, 0.01, 0.01, 0.01, 0.01, 0.01, 0.01, 0.01, 0.01, 0.01,
           0.01, 0.01, 0.01, 0.01, 0.01, 0.01, 0.01, 0.01, 0.01, 0.01,
           0.01, 0.01, 0.01, 0.01, 0.01, 0.01, 0.01, 0.01, 0.01, 0.01,
           0.01, 0.01, 0.01, 0.01, 0.01, 0.01, 0.01, 0.01, 0.01, 0.01,
           0.01, 0.01, 0.01, 0.01, 0.01, 0.01, 0.01, 0.01, 0.01, 0.01,
           0.01, 0.01, 0.01, 0.01, 0.01, 0.01, 0.01, 0.01, 0.01, 0.01,
           0.01, 0.01, 0.01, 0.01, 0.01, 0.01, 0.01, 0.01, 0.01, 0.01,
           0.01, 0.01, 0.01, 0.01, 0.01, 0.01, 0.01, 0.01, 0.01, 0.01,
           0.01, 0.01, 0.01, 0.01, 0.01, 0.01, 0.01, 0.01, 0.01, 0.01,
           0.01]
C2_P_SD = [0.1, 0.3, 0.4, 0.4, 0.5, 0.6, 0.7, 0.8, 0.8, 0.9,
           0.9, 1.0, 0.9, 1.0, 1.0, 1.0, 1.1, 1.0, 1.0, 1.1,
           1.0, 1.1, 1.0, 1.1, 1.0, 1.1, 1.0, 1.1, 1.0, 1.1,
           1.1, 1.0, 1.2, 1.1, 1.0, 1.1, 1.2, 1.0, 1.1, 1.2,
           1.1, 1.0, 1.2, 1.1, 1.3, 1.1, 1.0, 1.2, 1.1, 1.3,
           1.2, 1.1, 1.0, 1.2, 1.3, 1.1, 1.2, 1.0, 1.1, 1.2,
           1.1, 1.3, 1.2, 1.0, 1.1, 1.2, 1.1, 1.3, 1.2, 1.1,
           1.2, 1.1, 1.0, 1.2, 1.1, 1.3, 1.2, 1.1, 1.3, 1.2,
           1.1, 1.2, 1.3, 1.1, 1.2, 1.1, 1.3, 1.4, 1.2, 1.1,
           1.3, 1.2, 1.4, 1.1, 1.2, 1.3, 1.2, 1.3, 1.4, 1.3,
           1.2]
C2_O_SD = [0.0, 0.0, 0.0, 0.0, 0.0, 0.2, 0.6, 0.7, 0.7, 0.8,
           0.8, 0.8, 0.7, 0.7, 0.6, 0.6, 0.6, 0.5, 0.5, 0.5,
           0.5, 0.5, 0.4, 0.5, 0.4, 0.5, 0.4, 0.5, 0.4, 0.5,
           0.4, 0.4, 0.5, 0.4, 0.4, 0.5, 0.4, 0.4, 0.5, 0.4,
           0.4, 0.5, 0.4, 0.4, 0.5, 0.4, 0.4, 0.5, 0.4, 0.4,
           0.5, 0.4, 0.4, 0.5, 0.4, 0.4, 0.5, 0.4, 0.5, 0.4,
           0.4, 0.5, 0.4, 0.4, 0.5, 0.4, 0.4, 0.5, 0.4, 0.4,
           0.5, 0.4, 0.4, 0.5, 0.4, 0.4, 0.5, 0.4, 0.4, 0.5,
           0.4, 0.4, 0.5, 0.4, 0.4, 0.5, 0.4, 0.4, 0.5, 0.4,
           0.4, 0.5, 0.4, 0.4, 0.5, 0.4, 0.4, 0.5, 0.4, 0.4,
           0.4]

# panel order: a-top, b-top, c-top, a-bottom, b-bottom, c-bottom
PANEL_SERIES = [
    [(A1_G, A1_G_SD), (A1_P, A1_P_SD), (A1_O, A1_O_SD)],
    [(B1_G, B1_G_SD), (B1_P, B1_P_SD), (B1_O, B1_O_SD)],
    [(C1_G, C1_G_SD), (C1_P, C1_P_SD), (C1_O, C1_O_SD)],
    [(A2_G, A2_G_SD), (A2_P, A2_P_SD), (A2_O, A2_O_SD)],
    [(B2_G, B2_G_SD), (B2_P, B2_P_SD), (B2_O, B2_O_SD)],
    [(C2_G, C2_G_SD), (C2_P, C2_P_SD), (C2_O, C2_O_SD)],
]

# ---------------- layout / styling ----------------
W, H = 1281, 556
COL_PX = [(55, 385), (495, 825), (937, 1265)]
ROW_PX = [(30, 210), (287, 466)]
YTITLE_X_PX = [17, 457, 897]
TITLE_Y_PX = [16, 275]
XLABEL_Y_PX = [243, 499]
CAPTION_Y_PX = 546
# (x position in px, anchor)
CAPTION_X = [(202, "center"), (658, "center"), (1278, "right")]

LINE_COLORS = ["#0b6b0b", "#8a2be2", "#ff8c00"]
BAND_COLORS = ["rgba(11,107,11,0.18)", "rgba(138,43,226,0.18)", "rgba(255,140,0,0.2)"]
GRAY_TXT = "#a3a3a3"
SANS = "Liberation Sans"
SERIF = "Liberation Serif"

# label text positions (data coords) for [Perfect Reward, Standard Training, Hallucinated]
TEXT_POS = [
    [(78, 6.3), (68, 5.36), (48, 4.3)],
    [(54, 4.75), (67.5, 5.77), (88.3, 6.86)],
    [(53.2, 6.25), (67.9, 7.32), (87.6, 8.36)],
    [(103, 4.3), (87.9, 5.3), (87.9, 6.34)],
    [(103.6, 4.26), (88.3, 5.28), (88.3, 6.32)],
    [(78.5, 6.34), (92.9, 7.25), (113.2, 8.32)],
]
# arrows (tail_x, tail_y, head_x, head_y)
ARROW_POS = [
    [(46.5, 7.1, 26, 9.5), (31, 6.0, 10, 7.7), (21, 5.1, 16, 5.7)],
    [(84.2, 3.8, 99, 0.45), (103.6, 4.82, 118.6, 1.77), (114, 5.84, 128.3, 3.3)],
    [(83.7, 5.33, 99.4, 0.3), (102.4, 6.3, 119.3, 1.77), (114, 7.35, 128.2, 5.24)],
    [(133.9, 5.13, 148.5, 8.11), (123.2, 6.11, 138.4, 8.79), (113.7, 7.07, 129.3, 9.56)],
    [(134.7, 5.07, 149.5, 7.8), (124.2, 6.1, 138.8, 8.27), (114.5, 7.07, 129.3, 9.63)],
    [(109.1, 5.32, 123.8, 0.43), (130, 6.34, 141.2, 4.98), (140.4, 8.88, 153.3, 9.56)],
]
# which side the "Random" label sits on per panel
RANDOM_LABEL_SIDE = [["right", "left", "right"], ["right", "right", "right"]]

fig = go.Figure()
shapes = []
annotations = []
layout_axes = {}

for p in range(6):
    row, col = divmod(p, 3)
    idx = "" if p == 0 else str(p + 1)
    xa, ya = "x" + idx, "y" + idx
    x0p, x1p = COL_PX[col]
    y0p, y1p = ROW_PX[row]
    layout_axes["xaxis" + idx] = dict(
        domain=[x0p / W, x1p / W], anchor=ya, range=[ITER[0], ITER[-1]],
        tickvals=X_TICKS, ticks="inside", ticklen=5, tickwidth=1, tickcolor="black",
        showline=True, linecolor="black", linewidth=1, mirror="ticks",
        showgrid=False, zeroline=False,
        tickfont=dict(family=SERIF, size=14, color="black"))
    layout_axes["yaxis" + idx] = dict(
        domain=[1 - y1p / H, 1 - y0p / H], anchor=xa, range=[-0.2, 12],
        tickvals=Y_TICKS, ticks="inside", ticklen=5, tickwidth=1, tickcolor="black",
        showline=True, linecolor="black", linewidth=1, mirror="ticks",
        showgrid=False, zeroline=False,
        tickfont=dict(family=SERIF, size=14, color="black"))

    # reference bands
    for mean, spr, name in ((PERFECT_MODEL_MEAN[col], PERFECT_MODEL_SPREAD[col], "Perfect Model"),
                            (RANDOM_MEAN[col], RANDOM_SPREAD[col], "Random")):
        shapes.append(dict(type="rect", xref=xa, yref=ya, x0=ITER[0], x1=ITER[-1],
                           y0=mean - spr, y1=mean + spr, fillcolor="#e3e3e3",
                           line=dict(width=0), layer="below"))
        shapes.append(dict(type="line", xref=xa, yref=ya, x0=ITER[0], x1=ITER[-1],
                           y0=mean, y1=mean, line=dict(color="#999999", width=1.5, dash="9px,6px"),
                           layer="below"))
        if name == "Random" and RANDOM_LABEL_SIDE[row][col] == "right":
            annotations.append(dict(x=191.5, y=mean + spr - 0.05, xref=xa, yref=ya, text=name,
                                    showarrow=False, xanchor="right", yanchor="bottom",
                                    font=dict(family=SANS, size=13.5, color=GRAY_TXT)))
        else:
            annotations.append(dict(x=5, y=mean + spr - 0.05, xref=xa, yref=ya, text=name,
                                    showarrow=False, xanchor="left", yanchor="bottom",
                                    font=dict(family=SANS, size=13.5, color=GRAY_TXT)))

    # shaded bands
    for s, (vals, sd) in enumerate(PANEL_SERIES[p]):
        n = len(vals)
        xs = ITER[:n]
        upper = [v + d for v, d in zip(vals, sd)]
        lower = [v - d for v, d in zip(vals, sd)]
        fig.add_trace(go.Scatter(x=xs + xs[::-1], y=upper + lower[::-1], xaxis=xa, yaxis=ya,
                                 fill="toself", fillcolor=BAND_COLORS[s], line=dict(width=0),
                                 mode="lines", hoverinfo="skip", showlegend=False))
    # mean lines
    for s, (vals, sd) in enumerate(PANEL_SERIES[p]):
        xs = ITER[:len(vals)]
        fig.add_trace(go.Scatter(x=xs, y=vals, xaxis=xa, yaxis=ya, mode="lines",
                                 line=dict(color=LINE_COLORS[s], width=1.6),
                                 name=SERIES_NAMES[s], showlegend=False))

    # series labels and arrows
    for s in range(3):
        tx, ty = TEXT_POS[p][s]
        annotations.append(dict(x=tx, y=ty, xref=xa, yref=ya, text=SERIES_NAMES[s], showarrow=False,
                                xanchor="center", yanchor="middle",
                                font=dict(family=SANS, size=13.5, color=LINE_COLORS[s])))
        ax_, ay_, hx, hy = ARROW_POS[p][s]
        annotations.append(dict(x=hx, y=hy, ax=ax_, ay=ay_, xref=xa, yref=ya, axref=xa, ayref=ya,
                                text="", showarrow=True, arrowhead=2, arrowsize=1.1,
                                arrowwidth=1.3, arrowcolor="black", standoff=0, startstandoff=0))

    # panel title, x label, y label
    cx = (x0p + x1p) / 2 / W
    annotations.append(dict(x=cx, y=1 - TITLE_Y_PX[row] / H, xref="paper", yref="paper",
                            text=PANEL_TITLES[p], showarrow=False, xanchor="center", yanchor="middle",
                            font=dict(family=SANS, size=15.5, color="black")))
    annotations.append(dict(x=cx, y=1 - XLABEL_Y_PX[row] / H, xref="paper", yref="paper",
                            text="Iteration", showarrow=False, xanchor="center", yanchor="middle",
                            font=dict(family=SANS, size=13.5, color="black")))
    annotations.append(dict(x=YTITLE_X_PX[col] / W, y=1 - ((y0p + y1p) / 2) / H, xref="paper",
                            yref="paper", text="Avg. Discounted Return", textangle=-90,
                            showarrow=False, xanchor="center", yanchor="middle",
                            font=dict(family=SANS, size=13.5, color="black")))

for c in range(3):
    cxp, anc = CAPTION_X[c]
    annotations.append(dict(x=cxp / W, y=1 - CAPTION_Y_PX / H, xref="paper", yref="paper",
                            text=CAPTIONS[c], showarrow=False, xanchor=anc, yanchor="middle",
                            font=dict(family=SERIF, size=22, color="black")))

fig.update_layout(width=W, height=H, margin=dict(l=0, r=0, t=0, b=0),
                  paper_bgcolor="white", plot_bgcolor="white", showlegend=False,
                  shapes=shapes, annotations=annotations, **layout_axes)

fig.write_html("out.html", config={"displayModeBar": False},
               post_script="document.documentElement.style.margin='0';document.body.style.margin='0';"
                           "document.body.style.padding='0';document.body.style.overflow='hidden';"
                           "document.documentElement.style.overflow='hidden';")
